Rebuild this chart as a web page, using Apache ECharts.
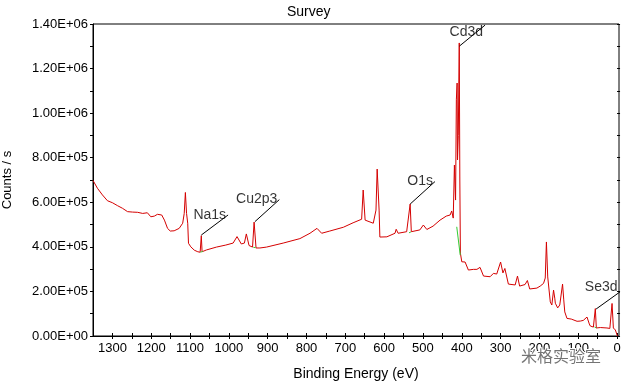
<!DOCTYPE html>
<html>
<head>
<meta charset="utf-8">
<script src="https://cdn.jsdelivr.net/npm/echarts@6/dist/echarts.min.js"></script>
<style>
html,body{margin:0;padding:0;background:#fff;}
#chart{width:622px;height:384px;}
</style>
</head>
<body>
<div id="chart"></div>
<script>
// ---- data (binding energy in eV, intensity in counts/s) ----
const energyEv = [1350,1338.6,1325.7,1312.8,1300,1287,1274,1261,1248,1235,1222,1210,1201,1192,1184,1173,1166,1158,1151,1141,1128,1119,1115,1112,1109,1106,1104,1098,1089,1080,1074,1071,1069,1067,1058,1032,1008,989,979,968,960,955,948,939,935,930,920,903,860,817,791,773,761,740,705,680,658,654,649,628,621,618,613,611,593,572,569,564,542,537,533,530,508,499,490,474,456,440,430,426,422,419,416,414,412,411,409,406.5,405,403.6,400,391.5,383,370,361,353,344,327,318.5,310,300,294,289,280,262.5,256.5,251,237,231,225,206.5,198,189.4,185,182,178.6,172,168,163.6,160.5,159,153,147.6,140.4,137.3,134.7,129,118,103,94.7,87,77.4,71.5,69,61,56,53.4,43,26,18.6,12.9,9.5,4.4,-1];
const countsPerS = [698000,663000,633000,607000,598000,585000,573000,558000,556000,555000,550000,553000,535000,538000,546000,543000,520000,483000,471000,472000,483000,506000,550000,644000,550000,506000,416000,400000,385000,378000,376000,450000,378000,380000,386000,399000,408000,417000,446000,413000,417000,458000,406000,399000,511000,395000,395000,399000,417000,437000,461000,483000,461000,471000,488000,508000,524000,655000,520000,506000,565000,749000,565000,444000,445000,461000,479000,461000,468000,462000,592000,468000,476000,498000,478000,493000,520000,538000,543000,561000,529000,767000,610000,1060000,1135000,790000,900000,1315000,700000,372000,333000,332000,296000,299000,299000,308000,269000,266000,281000,278000,332000,283000,303000,233000,229000,269000,224000,231000,249000,211000,215000,224000,236000,260000,422000,265000,153000,139000,206000,170000,147000,126000,139000,233000,162000,108000,79000,76000,66000,67000,70000,85000,54000,45000,40000,123000,36000,38000,36000,34000,146000,36000,27000,0];

// fitted background segments (green), null separates segments
const backgroundEv     = [1073,1067,null,937,931,null,536,531,null,413,404,null,58,53];
const backgroundCounts = [376000,380000,null,398000,396000,null,463000,467000,null,490000,363000,null,40000,36000];

// peak annotations
const peakNames     = ['Na1s','Cu2p3','O1s','Cd3d','Se3d'];
const peakEv        = [1071,933,533,406,54];
const peakCounts    = [453000,513000,592000,1301000,121000];
const leaderEndEv   = [1002,870,469,340,-14];
const leaderEndCnts = [543000,612000,693000,1395000,206000];

// axis ticks and labels
const xTickValues  = [0,50,100,150,200,250,300,350,400,450,500,550,600,650,700,750,800,850,900,950,1000,1050,1100,1150,1200,1250,1300];
const xLabelValues = [0,100,200,300,400,500,600,700,800,900,1000,1100,1200,1300];
const yTickValues  = [0,100000,200000,300000,400000,500000,600000,700000,800000,900000,1000000,1100000,1200000,1300000,1400000];
const yLabelValues = [0,200000,400000,600000,800000,1000000,1200000,1400000];

const titleText = 'Survey';
const xName = 'Binding Energy (eV)';
const yName = 'Counts / s';
const watermark = '米格实验室';

// ---- build ----
const FONT = 'Arial, "Liberation Sans", sans-serif';
function sci(v){
  if (v === 0) return '0.00E+00';
  const e = Math.floor(Math.log10(v) + 1e-9);
  const m = v / Math.pow(10, e);
  return m.toFixed(2) + 'E+' + String(e).padStart(2, '0');
}
const spectrum = energyEv.map((e, i) => [e, countsPerS[i]]);
const background = backgroundEv.map((e, i) => e === null ? [null, null] : [e, backgroundCounts[i]]);
const leaders = [];
peakNames.forEach((n, i) => {
  leaders.push([peakEv[i], peakCounts[i]]);
  leaders.push([leaderEndEv[i], leaderEndCnts[i]]);
  leaders.push([null, null]);
});
const labelShift = { 'Cd3d': [0, 7], 'Se3d': [-3, -3] };
const labelPts = peakNames.map((n, i) => ({
  value: [leaderEndEv[i], leaderEndCnts[i]],
  name: n,
  label: { offset: labelShift[n] || [0, 0] }
}));

const XMIN = -5, XMAX = 1350;
const chart = echarts.init(document.getElementById('chart'), null, { renderer: 'canvas' });
chart.setOption({
  animation: false,
  backgroundColor: '#fff',
  title: {
    text: titleText, left: 282, top: 0,
    textStyle: { fontFamily: FONT, fontSize: 14, fontWeight: 'normal', color: '#000' }
  },
  grid: { left: 93, right: 3, top: 24, bottom: 48, containLabel: false, outerBoundsMode: 'none',
          show: true, borderColor: '#000', borderWidth: 1, backgroundColor: 'transparent' },
  xAxis: [{
    type: 'value', inverse: true, min: XMIN, max: XMAX, position: 'bottom',
    name: xName, nameLocation: 'middle', nameGap: 31,
    nameTextStyle: { fontFamily: FONT, fontSize: 14, color: '#000' },
    axisLine: { show: true, onZero: false, lineStyle: { color: '#000', width: 1 } },
    axisTick: { show: true, inside: false, length: 3, customValues: xTickValues, lineStyle: { color: '#000' } },
    axisLabel: { show: true, customValues: xLabelValues, margin: 6, formatter: v => String(v),
                 fontFamily: FONT, fontSize: 13, color: '#000' },
    splitLine: { show: false }
  }, {
    type: 'value', inverse: true, min: XMIN, max: XMAX, position: 'bottom',
    axisLine: { show: false },
    axisTick: { show: true, inside: true, length: 3, customValues: xTickValues, lineStyle: { color: '#000' } },
    axisLabel: { show: false },
    splitLine: { show: false }
  }],
  yAxis: [{
    type: 'value', min: 0, max: 1400000, position: 'left',
    name: yName, nameLocation: 'middle', nameGap: 79, nameRotate: 90,
    nameTextStyle: { fontFamily: FONT, fontSize: 13, color: '#000' },
    axisLine: { show: true, onZero: false, lineStyle: { color: '#000', width: 1 } },
    axisTick: { show: true, inside: false, length: 3, customValues: yTickValues, lineStyle: { color: '#000' } },
    axisLabel: { show: true, customValues: yLabelValues, margin: 5, formatter: sci, fontFamily: FONT, fontSize: 13, color: '#000' },
    splitLine: { show: false }
  }, {
    type: 'value', min: 0, max: 1400000, position: 'left',
    axisLine: { show: false },
    axisTick: { show: true, inside: true, length: 3, customValues: yTickValues, lineStyle: { color: '#000' } },
    axisLabel: { show: false },
    splitLine: { show: false }
  }],
  series: [{
    name: 'spectrum', type: 'line', xAxisIndex: 0, yAxisIndex: 0,
    data: spectrum, showSymbol: false, symbol: 'none', silent: true,
    lineStyle: { color: '#d40000', width: 1 }, z: 3
  }, {
    name: 'background', type: 'line', xAxisIndex: 0, yAxisIndex: 0,
    data: background, showSymbol: false, symbol: 'none', connectNulls: false, silent: true,
    lineStyle: { color: '#33cc33', width: 1 }, z: 4
  }, {
    name: 'leaders', type: 'line', xAxisIndex: 0, yAxisIndex: 0,
    data: leaders, showSymbol: false, symbol: 'none', connectNulls: false, clip: false, silent: true,
    lineStyle: { color: '#000', width: 1 }, z: 5
  }, {
    name: 'labels', type: 'scatter', xAxisIndex: 0, yAxisIndex: 0,
    data: labelPts, symbolSize: 0, clip: false, silent: true,
    label: { show: true, position: 'left', distance: 2, formatter: p => p.name,
             fontFamily: FONT, fontSize: 14, color: '#000' }, z: 6
  }],
  graphic: [{
    type: 'text', right: 20, top: 347, z: 10, silent: true,
    style: { text: watermark, fontSize: 16, fontFamily: '"Noto Sans CJK SC", sans-serif',
             fill: 'rgba(70,70,70,0.75)', stroke: '#fff', lineWidth: 2 }
  }]
});
</script>
</body>
</html>
